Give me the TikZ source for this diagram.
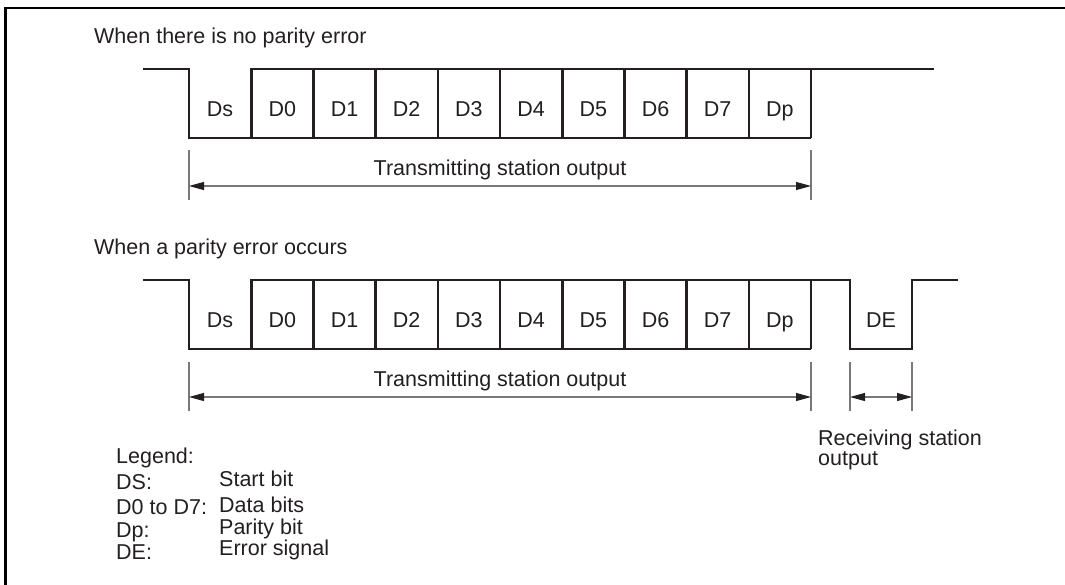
\documentclass[tikz,border=0pt]{standalone}
\usepackage{fontspec}
\setmainfont{Liberation Sans}
\usetikzlibrary{arrows.meta}
\definecolor{inkcol}{RGB}{35,31,32}
\definecolor{dimcol}{RGB}{120,120,120}
\begin{document}
\begin{tikzpicture}[x=1pt,y=-1pt,
  wave/.style={line width=2.6pt, draw=inkcol, line join=miter},
  dimline/.style={line width=1.1pt, draw=dimcol},
  dimarrow/.style={dimline, {Triangle[length=15pt,width=8pt,color=inkcol]}-{Triangle[length=15pt,width=8pt,color=inkcol]}},
  lbl/.style={font=\fontsize{21.5}{24}\selectfont, inner sep=0pt, text=inkcol},
  cell/.style={lbl, anchor=base},
  lft/.style={lbl, anchor=base west},
  frameline/.style={line width=2.5pt, draw=black}
]
\useasboundingbox (0,0) rectangle (1065,584);
\draw[frameline] (5.3,600) -- (5.3,7.8) -- (1080,7.8);

% ---------- headings ----------
\node[lft] (h1) at (94,43) {When there is no parity error};
\node[lft] (h2) at (94,254) {When a parity error occurs};

% ---------- waveform 1 ----------
\foreach \i in {0,...,10}{
  \coordinate (a\i) at ({189+62.2*\i},69);
  \coordinate (b\i) at ({189+62.2*\i},138);
}
\coordinate (s1) at (143,69);
\coordinate (e1) at (934,69);
\draw[wave] (s1) -- (a0) -- (b0) -- (b10);
\draw[wave] (b1) -- (a1) -- (e1);
\foreach \i in {2,...,10}{ \draw[wave] (a\i) -- (b\i); }
\foreach \t [count=\k from 0] in {Ds,D0,D1,D2,D3,D4,D5,D6,D7,Dp}{
  \node[cell] (c1\k) at ({189+62.2*\k+31.1},116) {\t};
}
% dimension 1
\coordinate (v1t) at (189,150); \coordinate (v1b) at (189,200);
\coordinate (v2t) at (811,150); \coordinate (v2b) at (811,200);
\draw[dimline] (v1t) -- (v1b);
\draw[dimline] (v2t) -- (v2b);
\coordinate (d1l) at (189,186); \coordinate (d1r) at (811,186);
\draw[dimarrow] (d1l) -- (d1r);
\node[cell] (t1) at (500,175) {Transmitting station output};

% ---------- waveform 2 ----------
\foreach \i in {0,...,10}{
  \coordinate (p\i) at ({189+62.2*\i},280);
  \coordinate (q\i) at ({189+62.2*\i},349);
}
\coordinate (s2) at (143,280);
\coordinate (f1) at (850,280);
\coordinate (f2) at (850,349);
\coordinate (f3) at (912,349);
\coordinate (f4) at (912,280);
\coordinate (e2) at (958,280);
\draw[wave] (s2) -- (p0) -- (q0) -- (q10);
\draw[wave] (q1) -- (p1) -- (f1) -- (f2) -- (f3) -- (f4) -- (e2);
\foreach \i in {2,...,10}{ \draw[wave] (p\i) -- (q\i); }
\foreach \t [count=\k from 0] in {Ds,D0,D1,D2,D3,D4,D5,D6,D7,Dp}{
  \node[cell] (c2\k) at ({189+62.2*\k+31.1},327) {\t};
}
\node[cell] (de) at (881,327) {DE};
% dimension 2
\foreach \n/\x in {w1/189,w2/811,w3/850,w4/912}{
  \coordinate (\n t) at (\x,362); \coordinate (\n b) at (\x,411);
  \draw[dimline] (\n t) -- (\n b);
}
\coordinate (d2l) at (189,397); \coordinate (d2r) at (811,397);
\coordinate (d3l) at (850,397); \coordinate (d3r) at (912,397);
\draw[dimarrow] (d2l) -- (d2r);
\draw[dimarrow] (d3l) -- (d3r);
\node[cell] (t2) at (500,386) {Transmitting station output};
\node[lft] (r1) at (818,445) {Receiving station};
\node[lft] (r2) at (818,465) {output};

% ---------- legend ----------
\node[lft] (lg) at (116,463) {Legend:};
\node[lft] (k1) at (116,489) {DS:};
\node[lft] (k2) at (116,514) {D0 to D7:};
\node[lft] (k3) at (116,537) {Dp:};
\node[lft] (k4) at (116,559) {DE:};
\node[lft] (v1) at (219,486) {Start bit};
\node[lft] (v2) at (219,512) {Data bits};
\node[lft] (v3) at (219,534) {Parity bit};
\node[lft] (v4) at (219,555) {Error signal};
\end{tikzpicture}
\end{document}
